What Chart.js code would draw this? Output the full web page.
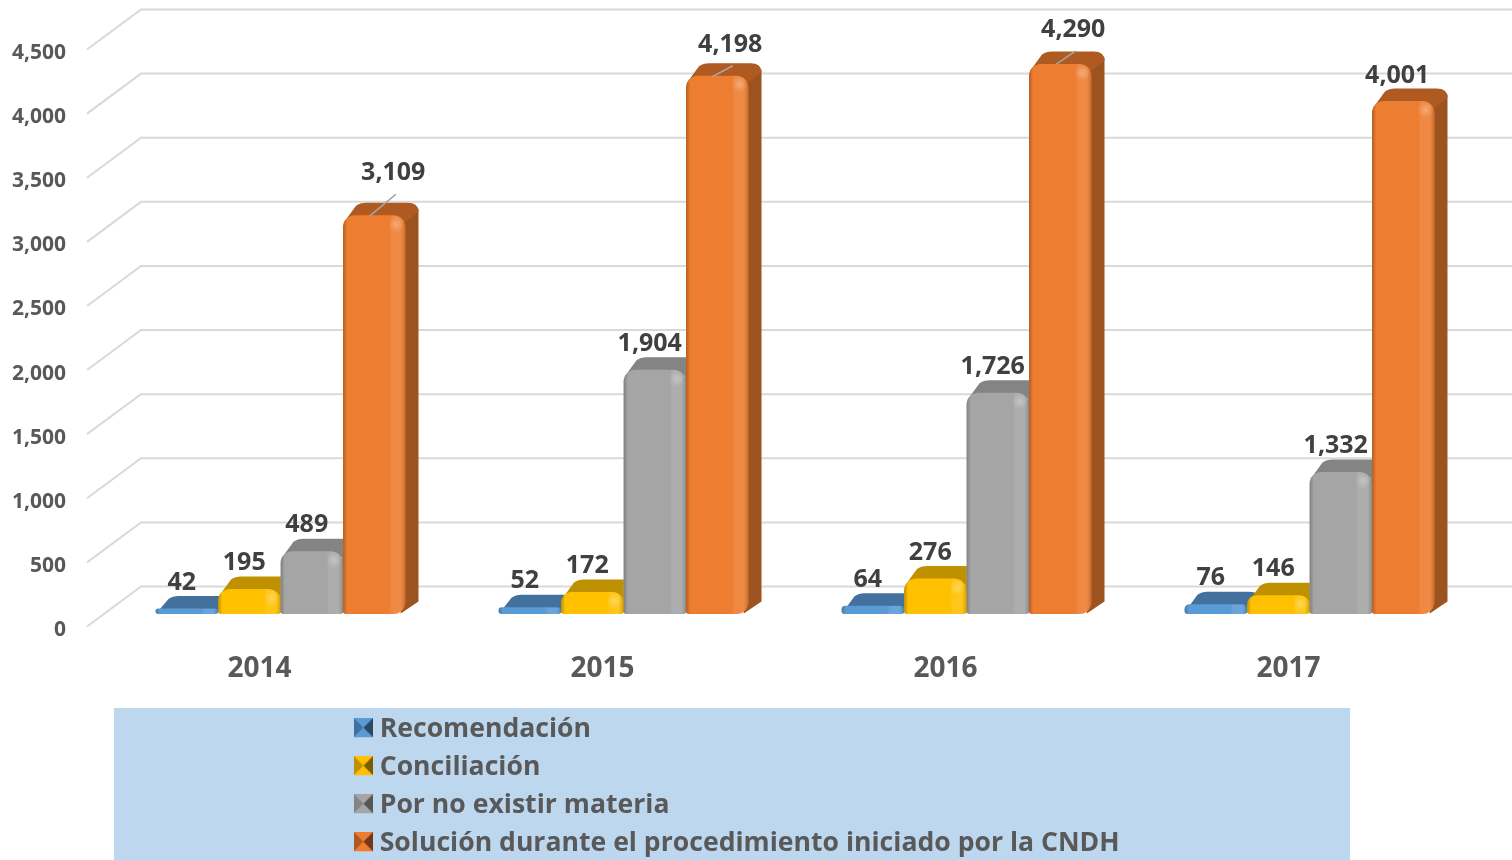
<!DOCTYPE html>
<html lang="es"><head><meta charset="utf-8"><title>Chart</title>
<style>html,body{margin:0;padding:0;background:#fff;overflow:hidden}canvas{display:block}</style>
<script src="https://cdn.jsdelivr.net/npm/chart.js@4/dist/chart.umd.min.js"></script>
</head><body><canvas id="c" width="1512" height="860"></canvas>
<script>
const years = ['2014','2015','2016','2017'];
const recomendacion = [42,52,64,76];
const conciliacion = [195,172,276,146];
const porNoExistir = [489,1904,1726,1108];
const solucion = [3109,4198,4290,4001];
const recomendacionLabels = ['42','52','64','76'];
const conciliacionLabels = ['195','172','276','146'];
const porNoExistirLabels = ['489','1,904','1,726','1,332'];
const solucionLabels = ['3,109','4,198','4,290','4,001'];
const seriesNames = ['Recomendación','Conciliación','Por no existir materia','Solución durante el procedimiento iniciado por la CNDH'];
const frontColors = ['#5b9bd5','#ffc000','#a5a5a5','#ed7d31'];
const topColors = ['#41719c','#bf9000','#848484','#ae5a21'];
const sideColors = ['#2f5f8a','#a67c00','#6a6a6a','#9c531f'];
const bottomRightRadius = [3,3,3,12];
const solucionLabelDx = [19,13,13,-6];
const solucionLabelDy = [-42,-31,-34,-25];
const solucionLeader = [true,true,true,false];
const allLabels = [recomendacionLabels,conciliacionLabels,porNoExistirLabels,solucionLabels];
const fmt = v => Number(v).toLocaleString('en-US');
const FONT = '"Open Sans"';
const DX = 13, DY = 12.5;

function swatch(front, dark){
  const s = 19, c = document.createElement('canvas'); c.width = s; c.height = s+4;
  const g = c.getContext('2d');
  g.fillStyle = front; g.fillRect(0,0,s,s);
  const tri = (pts, col) => { g.fillStyle = col; g.beginPath(); pts.forEach((p,i)=> i? g.lineTo(p[0],p[1]) : g.moveTo(p[0],p[1])); g.closePath(); g.fill(); };
  tri([[0,0],[s,0],[s/2,s/2]], front);
  tri([[0,0],[0,s],[s/2,s/2]], dark);
  tri([[s,0],[s,s],[s/2,s/2]], dark);
  tri([[0,s],[s,s],[s/2,s/2]], front);
  g.globalAlpha = .35; tri([[s,0],[s,s],[s/2,s/2]], '#000'); g.globalAlpha = 1;
  return c;
}
const swatches = frontColors.map((f,i)=>swatch(f, topColors[i]));

const sceneBack = {
  id:'sceneBack',
  beforeDraw(chart){
    const c = chart.ctx; c.save();
    c.fillStyle = '#ffffff'; c.fillRect(0,0,chart.width,chart.height);
    c.fillStyle = '#bdd7ee'; c.fillRect(114,708,1236,152);
    c.restore();
  },
  beforeDatasetsDraw(chart){
    const c = chart.ctx, y = chart.scales.y, left = chart.chartArea.left;
    c.save(); c.strokeStyle = '#d9d9d9'; c.lineWidth = 2; c.lineJoin = 'miter';
    y.ticks.forEach(t=>{
      const py = y.getPixelForValue(t.value);
      c.beginPath();
      c.moveTo(left-22, py+12.5);
      c.lineTo(left+32, py-27.5);
      c.lineTo(chart.width, py-27.5);
      c.stroke();
    });
    chart.data.datasets.forEach((ds,di)=>{
      chart.getDatasetMeta(di).data.forEach(b=>{
        const l = b.x-b.width/2, r = b.x+b.width/2, t = b.y, bt = b.base;
        const f = Math.min(t+7, bt-1), f2 = Math.min(t+6, bt-1);
        const br = bottomRightRadius[di], sx = br>3 ? r-4 : r-1;
        c.fillStyle = sideColors[di];
        c.beginPath(); c.moveTo(sx,f2); c.lineTo(r+DX,f2-DY); c.lineTo(r+DX,bt-DY); c.lineTo(r-br/2.5,bt-.5); c.closePath(); c.fill();
        c.fillStyle = topColors[di];
        c.beginPath(); c.moveTo(l+1,f);
        c.lineTo(l+13,t-DY+3);
        c.quadraticCurveTo(l+17,t-DY,l+23,t-DY);
        c.lineTo(r+2,t-DY);
        c.quadraticCurveTo(r+DX,t-DY,r+DX,t-DY+9);
        c.lineTo(sx,Math.min(f2+4,bt-1)); c.lineTo(sx,f2); c.closePath(); c.fill();
      });
    });
    c.restore();
  },
  afterDatasetsDraw(chart){
    const c = chart.ctx;
    c.save();
    chart.data.datasets.forEach((ds,di)=>{
      chart.getDatasetMeta(di).data.forEach(b=>{
        const w = b.width, l = b.x-w/2, r = b.x+w/2, t = b.y, h = b.base-b.y;
        const rad = Math.min(12,h/2,w/2);
        c.save();
        c.beginPath(); c.roundRect(l,t,w,h,[rad,rad,Math.min(bottomRightRadius[di],h/2),Math.min(3,h/2)]); c.clip();
        const g = c.createLinearGradient(l,0,r,0);
        g.addColorStop(0,'rgba(0,0,0,.24)'); g.addColorStop(.07,'rgba(0,0,0,0)');
        g.addColorStop(.74,'rgba(255,255,255,0)'); g.addColorStop(.78,'rgba(255,255,255,.09)');
        g.addColorStop(.92,'rgba(255,255,255,.09)'); g.addColorStop(1,'rgba(0,0,0,.18)');
        c.fillStyle = g; c.fillRect(l,t,w,h);
        if(h>14){
          const rg = c.createRadialGradient(r-9,t+9,0,r-9,t+9,8);
          rg.addColorStop(0,'rgba(255,255,255,.28)'); rg.addColorStop(1,'rgba(255,255,255,0)');
          c.fillStyle = rg; c.fillRect(r-18,t,18,18);
        }
        c.restore();
      });
    });
    // data labels and leader lines
    c.font = 'bold 25px '+FONT; c.fillStyle = '#404040'; c.textAlign = 'center'; c.textBaseline = 'middle';
    chart.data.datasets.forEach((ds,di)=>{
      chart.getDatasetMeta(di).data.forEach((b,i)=>{
        const isLast = di===chart.data.datasets.length-1;
        const dx = isLast ? solucionLabelDx[i] : -5, dy = isLast ? solucionLabelDy[i] : -26;
        const lx = b.x+dx, ly = b.y+dy;
        if(isLast && solucionLeader[i]){
          c.save(); c.strokeStyle = '#a6a6a6'; c.lineWidth = 1.5;
          c.beginPath(); c.moveTo(lx+2.5, ly+21); c.lineTo(b.x-5, b.y+1); c.stroke(); c.restore();
        }
        c.fillText(allLabels[di][i], lx, ly);
      });
    });
    c.restore();
  }
};

const legendPlacement = {
  id:'legendPlacement',
  beforeLayout(chart){
    const l = chart.legend;
    if(l && !l._placed){
      const u = l.update.bind(l);
      l.update = function(a,b,m){ u(a,b,m); this.width = 0; };
      l._placed = true;
    }
  },
  afterLayout(chart){
    const l = chart.legend;
    l.left = 349; l.top = 705; l.width = 1000; l.height = 195; l.right = 1350; l.bottom = 900;
  }
};

new Chart(document.getElementById('c'),{
  type:'bar',
  data:{
    labels:years,
    datasets:[recomendacion,conciliacion,porNoExistir,solucion].map((d,i)=>({
      label:seriesNames[i], data:d, backgroundColor:frontColors[i],
      borderWidth:0, borderSkipped:false,
      borderRadius:{topLeft:12,topRight:12,bottomLeft:3,bottomRight:bottomRightRadius[i]},
      categoryPercentage:250/343, barPercentage:1
    }))
  },
  options:{
    responsive:false, animation:false, devicePixelRatio:1,
    layout:{padding:{top:37,right:31,left:0,bottom:0}},
    plugins:{
      tooltip:{enabled:false},
      legend:{
        position:'left', align:'start', fullSize:false,
        labels:{
          usePointStyle:true, pointStyleWidth:6, padding:11.4,
          color:'#595959', font:{family:FONT,size:26.6,weight:'bold'},
          generateLabels(chart){
            return chart.data.datasets.map((d,i)=>({text:d.label,fillStyle:frontColors[i],strokeStyle:frontColors[i],lineWidth:0,pointStyle:swatches[i],datasetIndex:i,fontColor:'#595959',hidden:false}));
          }
        }
      }
    },
    scales:{
      x:{
        grid:{display:false,drawTicks:false}, border:{display:false},
        ticks:{labelOffset:-21,padding:38,maxRotation:0,autoSkip:false,color:'#595959',font:{family:FONT,size:28,weight:'bold'}},
        afterFit(s){ s.height = 246; }
      },
      y:{
        min:0,max:4500,
        grid:{display:false,drawTicks:false}, border:{display:false},
        ticks:{stepSize:500,padding:43,labelOffset:16,color:'#595959',font:{family:FONT,size:21,weight:'bold'},callback:v=>fmt(v)},
        afterFit(s){ s.width = 109; s.paddingTop = 0; s.paddingBottom = 0; }
      }
    }
  },
  plugins:[sceneBack,legendPlacement]
});
</script></body></html>
